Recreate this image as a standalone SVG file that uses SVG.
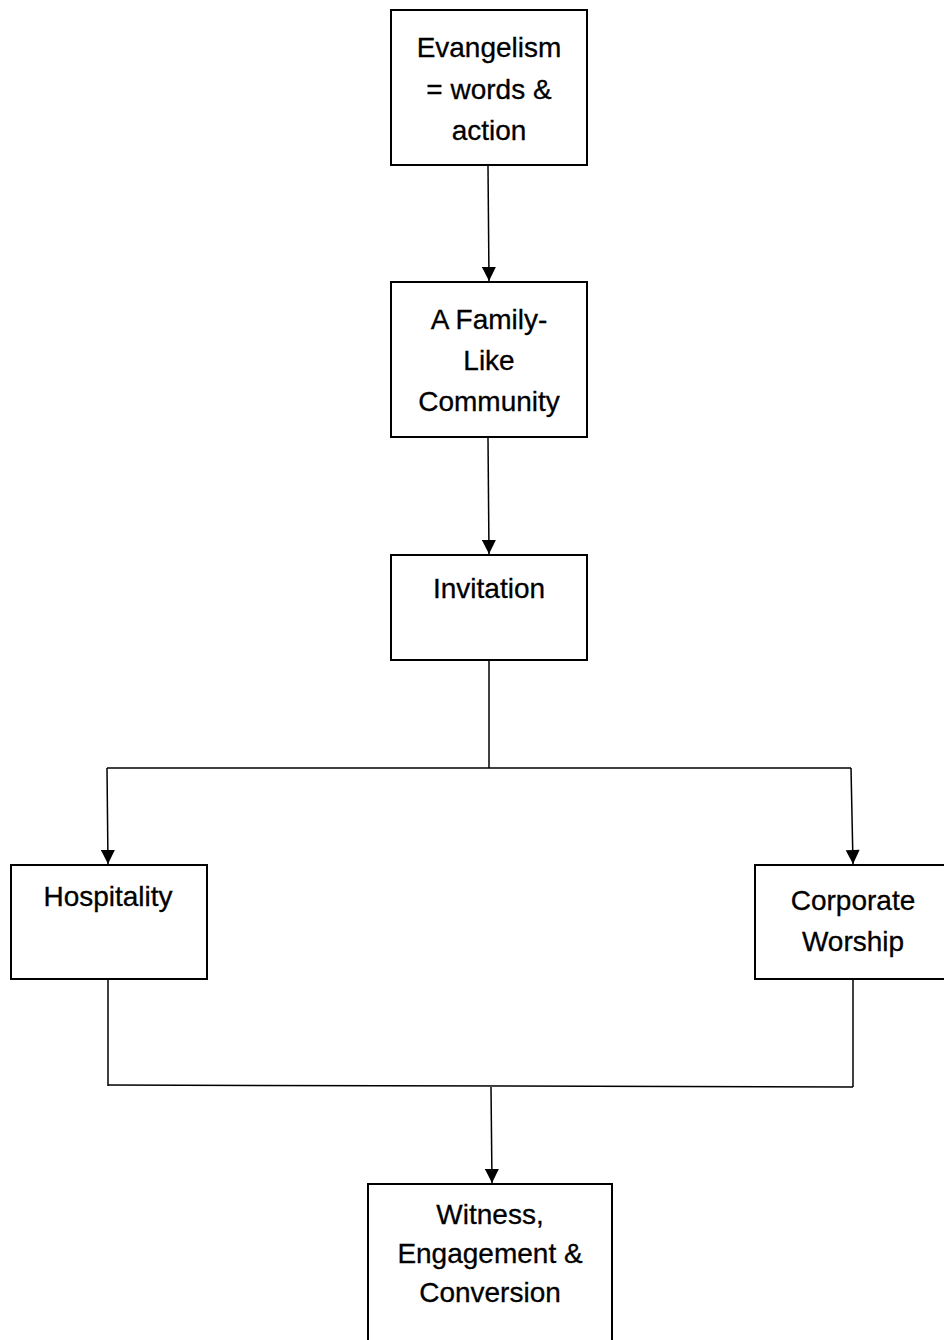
<svg xmlns="http://www.w3.org/2000/svg" width="944" height="1340" viewBox="0 0 944 1340">
<style>
.box{fill:#fff;stroke:#000;stroke-width:2}
.t{font-family:"Liberation Sans",Arial,sans-serif;font-size:28px;fill:#000;text-anchor:middle;stroke:#000;stroke-width:0.3}
.c{fill:none;stroke:#000;stroke-width:1.5}
</style>
<defs>
<marker id="ah" viewBox="0 0 10 10" refX="10" refY="5" markerWidth="15" markerHeight="14" markerUnits="userSpaceOnUse" orient="auto">
<path d="M0,0 L10,5 L0,10 z" fill="#000"/>
</marker>
</defs>
<g id="connectors">
<path class="c" d="M488,166 L489,281" marker-end="url(#ah)"/>
<path class="c" d="M488,438 L489,554" marker-end="url(#ah)"/>
<path class="c" d="M489,661 L489,768"/>
<path class="c" d="M107,768 L851,768"/>
<path class="c" d="M107,768 L108,864" marker-end="url(#ah)"/>
<path class="c" d="M851,768 L853,864" marker-end="url(#ah)"/>
<path class="c" d="M108,980 L108,1086"/>
<path class="c" d="M853,980 L853,1087"/>
<path class="c" d="M108,1085 L853,1087"/>
<path class="c" d="M491,1087 L492,1183" marker-end="url(#ah)"/>
</g>
<g id="n1"><rect class="box" x="391" y="10" width="196" height="155"/>
<text class="t" x="489" y="57">Evangelism</text><text class="t" x="489" y="99">= words &amp;</text><text class="t" x="489" y="140">action</text></g>
<g id="n2"><rect class="box" x="391" y="282" width="196" height="155"/>
<text class="t" x="489" y="329">A Family-</text><text class="t" x="489" y="370">Like</text><text class="t" x="489" y="411">Community</text></g>
<g id="n3"><rect class="box" x="391" y="555" width="196" height="105"/>
<text class="t" x="489" y="598">Invitation</text></g>
<g id="n4"><rect class="box" x="11" y="865" width="196" height="114"/>
<text class="t" x="108" y="906">Hospitality</text></g>
<g id="n5"><rect class="box" x="755" y="865" width="196" height="114"/>
<text class="t" x="853" y="910">Corporate</text><text class="t" x="853" y="951">Worship</text></g>
<g id="n6"><rect class="box" x="368" y="1184" width="244" height="170"/>
<text class="t" x="490" y="1224">Witness,</text><text class="t" x="490" y="1263">Engagement &amp;</text><text class="t" x="490" y="1302">Conversion</text></g>
</svg>
